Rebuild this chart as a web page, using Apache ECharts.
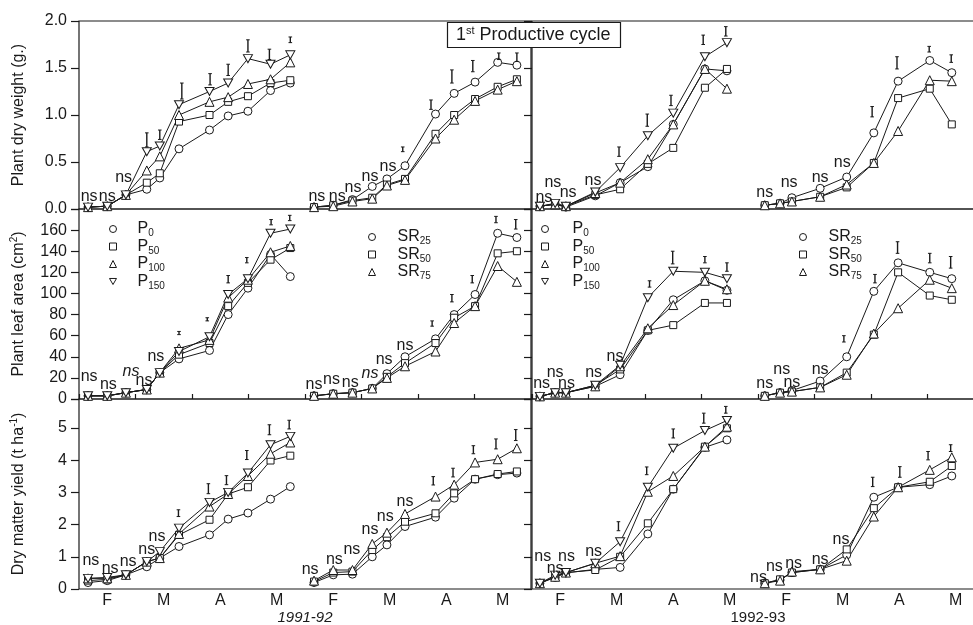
<!DOCTYPE html>
<html><head><meta charset="utf-8">
<script src="https://cdn.jsdelivr.net/npm/echarts@6.0.0/dist/echarts.min.js"></script>
<style>html,body{margin:0;padding:0;background:#fff}#c{width:973px;height:625px}</style>
</head><body><div id="c"></div>
<script>
const FONT = '"Liberation Sans", Arial, Helvetica, sans-serif';
const INK = '#1a1a1a';
const DOWN = 'path://M0,0L10,0L5,8.66Z';

// sampling times (months from 1 Feb) for each sub-panel
const tP91  = [0.16, 0.50, 0.83, 1.20, 1.43, 1.77, 2.31, 2.64, 2.99, 3.39, 3.74];
const tSR91 = [4.16, 4.50, 4.84, 5.19, 5.45, 5.77, 6.31, 6.64, 7.01, 7.41, 7.75];
const tP92  = [0.14, 0.41, 0.60, 1.12, 1.56, 2.05, 2.50, 3.06, 3.45];
const tSR92 = [4.12, 4.39, 4.60, 5.10, 5.57, 6.05, 6.48, 7.04, 7.43];

// Plant dry weight (g)
const dw91_P0   = [0.02, 0.03, 0.15, 0.21, 0.33, 0.64, 0.84, 0.99, 1.04, 1.26, 1.34];
const dw91_P50  = [0.02, 0.03, 0.15, 0.28, 0.38, 0.93, 1.00, 1.14, 1.20, 1.34, 1.37];
const dw91_P100 = [0.02, 0.03, 0.15, 0.41, 0.56, 1.00, 1.14, 1.19, 1.33, 1.38, 1.56];
const dw91_P150 = [0.02, 0.03, 0.15, 0.61, 0.67, 1.11, 1.25, 1.34, 1.60, 1.54, 1.64];
const dw91_SR25 = [0.02, 0.04, 0.10, 0.24, 0.32, 0.46, 1.01, 1.23, 1.35, 1.56, 1.53];
const dw91_SR50 = [0.02, 0.04, 0.09, 0.12, 0.26, 0.32, 0.80, 1.00, 1.17, 1.30, 1.38];
const dw91_SR75 = [0.02, 0.03, 0.08, 0.11, 0.25, 0.31, 0.75, 0.95, 1.15, 1.27, 1.36];
const dw92_P0   = [0.03, 0.05, 0.02, 0.14, 0.28, 0.45, 0.90, 1.49, 1.47];
const dw92_P50  = [0.03, 0.05, 0.03, 0.15, 0.21, 0.48, 0.65, 1.29, 1.49];
const dw92_P100 = [0.03, 0.05, 0.03, 0.17, 0.28, 0.53, 0.90, 1.49, 1.28];
const dw92_P150 = [0.03, 0.06, 0.03, 0.18, 0.44, 0.78, 1.02, 1.62, 1.77];
const dw92_SR25 = [0.04, 0.06, 0.12, 0.22, 0.34, 0.81, 1.36, 1.58, 1.45];
const dw92_SR50 = [0.04, 0.06, 0.08, 0.13, 0.23, 0.49, 1.18, 1.28, 0.90];
const dw92_SR75 = [0.04, 0.06, 0.08, 0.13, 0.26, 0.49, 0.83, 1.37, 1.36];

// Plant leaf area (cm2)
const la91_P0   = [3, 3, 6, 9, 25, 38, 46, 80, 105, 137, 116];
const la91_P50  = [3, 3, 6, 9, 25, 42, 53, 88, 110, 132, 143];
const la91_P100 = [3, 3, 6, 9, 25, 48, 56, 96, 113, 139, 145];
const la91_P150 = [3, 3, 6, 9, 25, 45, 59, 99, 114, 157, 161];
const la91_SR25 = [3, 5, 6, 10, 24, 40, 57, 80, 99, 157, 153];
const la91_SR50 = [3, 5, 6, 10, 21, 34, 53, 77, 88, 138, 140];
const la91_SR75 = [3, 5, 6, 10, 20, 31, 45, 72, 88, 126, 111];
const la92_P0   = [2.5, 6, 6, 12, 23, 65, 94, 112, 103];
const la92_P50  = [2.5, 6, 6, 13, 28, 65, 70, 91, 91];
const la92_P100 = [2.5, 6, 6, 12, 31, 67, 89, 112, 104];
const la92_P150 = [2.5, 6, 6, 13, 32, 96, 121, 120, 114];
const la92_SR25 = [3, 6, 8, 17, 40, 102, 129, 120, 114];
const la92_SR50 = [3, 6, 7, 11, 25, 61, 120, 98, 94];
const la92_SR75 = [3, 6, 7, 11, 23, 62, 86, 113, 105];

// Dry matter yield (t/ha)
const dm91_P0   = [0.20, 0.26, 0.44, 0.69, 0.96, 1.32, 1.68, 2.17, 2.36, 2.79, 3.18];
const dm91_P50  = [0.26, 0.30, 0.44, 0.85, 0.96, 1.68, 2.15, 2.95, 3.16, 3.99, 4.14];
const dm91_P100 = [0.33, 0.33, 0.44, 0.85, 0.96, 1.71, 2.56, 2.95, 3.51, 4.20, 4.55];
const dm91_P150 = [0.33, 0.36, 0.44, 0.85, 1.16, 1.89, 2.69, 3.00, 3.60, 4.48, 4.74];
const dm91_SR25 = [0.20, 0.44, 0.46, 1.00, 1.37, 1.94, 2.23, 2.82, 3.41, 3.55, 3.60];
const dm91_SR50 = [0.23, 0.51, 0.54, 1.21, 1.61, 2.09, 2.35, 2.97, 3.41, 3.57, 3.65];
const dm91_SR75 = [0.26, 0.59, 0.59, 1.40, 1.75, 2.33, 2.87, 3.24, 3.93, 4.03, 4.37];
const dm92_P0   = [0.18, 0.36, 0.50, 0.61, 0.67, 1.71, 3.10, 4.40, 4.63];
const dm92_P50  = [0.18, 0.38, 0.51, 0.59, 1.00, 2.04, 3.10, 4.42, 4.99];
const dm92_P100 = [0.18, 0.38, 0.51, 0.80, 1.02, 3.02, 3.51, 4.42, 5.04];
const dm92_P150 = [0.18, 0.43, 0.51, 0.80, 1.47, 3.16, 4.37, 4.92, 5.23];
const dm92_SR25 = [0.18, 0.28, 0.51, 0.61, 1.06, 2.85, 3.16, 3.24, 3.51];
const dm92_SR50 = [0.18, 0.30, 0.51, 0.61, 1.23, 2.51, 3.16, 3.33, 3.82];
const dm92_SR75 = [0.18, 0.26, 0.54, 0.61, 0.88, 2.25, 3.16, 3.70, 4.09];

// "ns" annotations [x, y, italic]
const ns91DW = [[0.18,0.13],[0.50,0.13],[0.79,0.33],[4.21,0.13],[4.57,0.13],[4.85,0.23],[5.15,0.34],[5.47,0.45]];
const ns92DW = [[0.21,0.12],[0.37,0.28],[0.64,0.17],[1.08,0.30],[4.12,0.17],[4.55,0.28],[5.10,0.33],[5.49,0.49]];
const ns91LA = [[0.18,21],[0.52,13.5],[0.92,26,1],[1.15,17],[1.36,40],[4.16,13.5],[4.47,18],[4.80,16],[5.15,24,1],[5.40,37],[5.77,51]];
const ns92LA = [[0.17,14.5],[0.41,25],[0.61,14.5],[1.09,25],[1.47,40],[4.12,15],[4.42,28],[4.60,16],[5.10,28]];
const ns91DM = [[0.21,0.87],[0.55,0.64],[0.87,0.85],[1.20,1.21],[1.38,1.63],[4.09,0.59],[4.52,0.90],[4.83,1.21],[5.15,1.84],[5.42,2.25],[5.77,2.70]];
const ns92DM = [[0.19,1.00],[0.41,0.64],[0.61,1.00],[1.09,1.16],[4.01,0.35],[4.29,0.69],[4.63,0.80],[5.10,0.90],[5.47,1.52]];

// LSD bars [x, low, high]
const lsd91DW = [[1.20,0.66,0.81],[1.43,0.74,0.84],[1.82,1.17,1.34],[2.32,1.32,1.44],[2.64,1.42,1.54],[2.99,1.67,1.80],[3.37,1.59,1.70],[3.74,1.77,1.83],[5.73,0.61,0.66],[6.23,1.06,1.16],[6.60,1.34,1.48],[6.97,1.46,1.58],[7.43,1.59,1.66],[7.75,1.57,1.66]];
const lsd92DW = [[1.54,0.56,0.66],[2.04,0.88,1.01],[2.46,1.10,1.21],[3.03,1.75,1.85],[3.43,1.84,1.94],[6.02,0.98,1.09],[6.46,1.49,1.62],[7.03,1.67,1.73],[7.42,1.56,1.64]];
const lsd91LA = [[1.77,61,64],[2.27,74,77],[2.64,110,117],[2.97,129,134],[3.40,165,170],[3.73,169,174],[6.25,69,74],[6.60,92,99],[6.96,110,117],[7.38,167,173],[7.73,161,170]];
const lsd92LA = [[2.08,106,112],[2.49,128,140],[3.06,129,135],[3.45,121,129],[5.52,54,60],[6.07,110,118],[6.47,138,149],[7.04,129,138],[7.41,124,135]];
const lsd91DM = [[1.76,2.25,2.46],[2.29,2.96,3.27],[2.61,3.24,3.52],[2.97,4.02,4.30],[3.37,4.79,5.10],[3.72,4.97,5.24],[6.27,3.23,3.49],[6.62,3.48,3.75],[6.98,4.20,4.45],[7.38,4.35,4.66],[7.73,4.61,4.95]];
const lsd92DM = [[1.53,1.81,2.09],[2.03,3.55,3.79],[2.50,4.69,4.97],[3.04,5.15,5.46],[3.43,5.46,5.67],[6.03,3.18,3.47],[6.51,3.47,3.80],[7.01,4.01,4.27],[7.41,4.27,4.48]];

const monthLabels = ['F','M','A','M','F','M','A','M'];
const yearLabels = ['1991-92','1992-93'];
const yTitles = ['{a|Plant dry weight (g.)}', '{a|Plant leaf area (cm}{s|2}{a|)}', '{a|Dry matter yield (t ha}{s|-1}{a|)}'];
const pNames = ['P0','P50','P100','P150'];
const srNames = ['SR25','SR50','SR75'];

// layout
const gridTop = [21, 209, 399], gridH = [188, 190, 190];
const colLeft = [79, 532], colW = 452;
const yMax = [2, 180, 5.9], yStep = [0.5, 20, 1];
const yFmt = [v => v.toFixed(1), v => (v > 160 ? '' : String(v)), v => (v % 1 === 0 ? String(v) : '')];

const panels = [
  {g:0, tP:tP91, tS:tSR91, P:[dw91_P0,dw91_P50,dw91_P100,dw91_P150], S:[dw91_SR25,dw91_SR50,dw91_SR75], ns:ns91DW, lsd:lsd91DW},
  {g:1, tP:tP92, tS:tSR92, P:[dw92_P0,dw92_P50,dw92_P100,dw92_P150], S:[dw92_SR25,dw92_SR50,dw92_SR75], ns:ns92DW, lsd:lsd92DW},
  {g:2, tP:tP91, tS:tSR91, P:[la91_P0,la91_P50,la91_P100,la91_P150], S:[la91_SR25,la91_SR50,la91_SR75], ns:ns91LA, lsd:lsd91LA},
  {g:3, tP:tP92, tS:tSR92, P:[la92_P0,la92_P50,la92_P100,la92_P150], S:[la92_SR25,la92_SR50,la92_SR75], ns:ns92LA, lsd:lsd92LA},
  {g:4, tP:tP91, tS:tSR91, P:[dm91_P0,dm91_P50,dm91_P100,dm91_P150], S:[dm91_SR25,dm91_SR50,dm91_SR75], ns:ns91DM, lsd:lsd91DM},
  {g:5, tP:tP92, tS:tSR92, P:[dm92_P0,dm92_P50,dm92_P100,dm92_P150], S:[dm92_SR25,dm92_SR50,dm92_SR75], ns:ns92DM, lsd:lsd92DM}
];

const symOf = {P0:'circle', P50:'rect', P100:'triangle', P150:DOWN, SR25:'circle', SR50:'rect', SR75:'triangle'};
const sizeOf = {P0:8, P50:7, P100:9, P150:[9,8], SR25:8, SR50:7, SR75:9};

const grids = [], xAxes = [], yAxes = [], series = [];
for (let g = 0; g < 6; g++) {
  const r = Math.floor(g / 2), c = g % 2;
  grids.push({left: colLeft[c], top: gridTop[r], width: colW, height: gridH[r], show: true,
    borderColor: INK, borderWidth: 1.2, backgroundColor: 'transparent', containLabel: false, outerBoundsMode: 'none'});
  xAxes.push({type: 'value', gridIndex: g, min: 0, max: 8, interval: 0.5,
    axisLine: {show: false}, axisTick: {show: false}, splitLine: {show: false},
    axisLabel: {show: r === 2, margin: 4, fontSize: 16, fontFamily: FONT, color: INK,
      formatter: v => (Math.abs(v % 1 - 0.5) < 1e-6 ? monthLabels[Math.floor(v)] : '')},
    name: r === 2 ? yearLabels[c] : '', nameLocation: 'middle', nameGap: 17,
    nameTextStyle: {fontSize: 15, fontFamily: FONT, color: INK, fontStyle: c === 0 ? 'italic' : 'normal'}});
  xAxes.push({type: 'value', gridIndex: g, min: 0, max: 8, interval: 1,
    axisLine: {show: false}, splitLine: {show: false}, axisLabel: {show: false},
    axisTick: {show: r === 2, inside: false, length: 5, lineStyle: {color: INK, width: 1.2}}});
  yAxes.push({type: 'value', gridIndex: g, min: 0, max: yMax[r], interval: yStep[r],
    axisLine: {show: false}, splitLine: {show: false},
    axisTick: {show: true, inside: false, length: 8, lineStyle: {color: INK, width: 1.2}},
    axisLabel: {show: c === 0, margin: 12, fontSize: 16, fontFamily: FONT, color: INK, formatter: yFmt[r]},
    name: c === 0 ? yTitles[r] : '', nameLocation: 'middle', nameGap: 50,
    nameTextStyle: {color: INK, fontWeight: 'normal', rich: {a: {fontSize: 16, fontFamily: FONT, color: INK, lineHeight: 20, fontWeight: 'normal'},
      s: {fontSize: 10, fontFamily: FONT, color: INK, verticalAlign: 'top', lineHeight: 20, fontWeight: 'normal'}}}});
}

function lineSeries(name, g, t, vals) {
  return {type: 'line', name, xAxisIndex: 2 * g, yAxisIndex: g,
    data: t.map((x, i) => [x, vals[i]]), symbol: symOf[name], symbolSize: sizeOf[name], showSymbol: true,
    itemStyle: {color: '#fff', borderColor: INK, borderWidth: 1},
    lineStyle: {color: INK, width: 1}, emphasis: {disabled: true}, animation: false, z: 3, clip: false};
}

function nsRender(params, api) {
  const p = api.coord([api.value(0), api.value(1)]);
  return {type: 'text', x: p[0], y: p[1], style: {text: 'ns', fill: INK,
    font: (api.value(2) ? 'italic ' : '') + '16px ' + FONT, align: 'center', verticalAlign: 'middle'}};
}
function lsdRender(params, api) {
  const x = api.value(0);
  const a = api.coord([x, api.value(1)]), b = api.coord([x, api.value(2)]);
  const w = 1.8;
  return {type: 'group', children: [
    {type: 'line', shape: {x1: a[0], y1: a[1], x2: b[0], y2: b[1]}, style: {stroke: INK, lineWidth: 1.4}},
    {type: 'line', shape: {x1: a[0] - w, y1: a[1], x2: a[0] + w, y2: a[1]}, style: {stroke: INK, lineWidth: 1}},
    {type: 'line', shape: {x1: b[0] - w, y1: b[1], x2: b[0] + w, y2: b[1]}, style: {stroke: INK, lineWidth: 1}}
  ]};
}

panels.forEach(p => {
  pNames.forEach((n, i) => series.push(lineSeries(n, p.g, p.tP, p.P[i])));
  srNames.forEach((n, i) => series.push(lineSeries(n, p.g, p.tS, p.S[i])));
  series.push({type: 'custom', xAxisIndex: 2 * p.g, yAxisIndex: p.g, data: p.ns.map(d => [d[0], d[1], d[2] || 0]),
    renderItem: nsRender, encode: {x: 0, y: 1}, clip: false, z: 4, animation: false, silent: true});
  series.push({type: 'custom', xAxisIndex: 2 * p.g, yAxisIndex: p.g, data: p.lsd,
    renderItem: lsdRender, encode: {x: 0, y: [1, 2]}, clip: false, z: 4, animation: false, silent: true});
});

function legendFor(names, left, top, pad) {
  return {orient: 'vertical', left, top, itemWidth: 7, itemHeight: 7, itemGap: 0, selectedMode: false,
    data: names.map(n => ({name: n, icon: symOf[n]})),
    itemStyle: {color: '#fff', borderColor: INK, borderWidth: 1},
    formatter: n => { const m = n.match(/^(P|SR)(\d+)$/); return '{a|' + m[1] + '}{b|' + m[2] + '}'; },
    textStyle: {color: INK, rich: {
      a: {fontSize: 16, fontFamily: FONT, color: INK, lineHeight: 19, padding: [0, 0, 0, pad]},
      b: {fontSize: 10, fontFamily: FONT, color: INK, lineHeight: 19, verticalAlign: 'bottom'}}}};
}

const option = {
  backgroundColor: '#fff',
  animation: false,
  title: {text: '{a|1}{s|st}{a| Productive cycle}', left: 447, top: 22, padding: [3, 10, 3, 9],
    borderColor: INK, borderWidth: 1.2, backgroundColor: '#fff', z: 10,
    textStyle: {fontWeight: 'normal', rich: {a: {fontSize: 18, fontFamily: FONT, color: INK, lineHeight: 21, fontWeight: 'normal'},
      s: {fontSize: 11, fontFamily: FONT, color: INK, lineHeight: 21, verticalAlign: 'top', fontWeight: 'normal'}}}},
  legend: [legendFor(pNames, 104, 216, 16), legendFor(srNames, 363, 224, 17),
           legendFor(pNames, 536, 216, 19), legendFor(srNames, 794, 224, 17)],
  grid: grids, xAxis: xAxes, yAxis: yAxes, series
};
const chart = echarts.init(document.getElementById('c'), null, {renderer: 'canvas'});
chart.setOption(option);
</script></body></html>
